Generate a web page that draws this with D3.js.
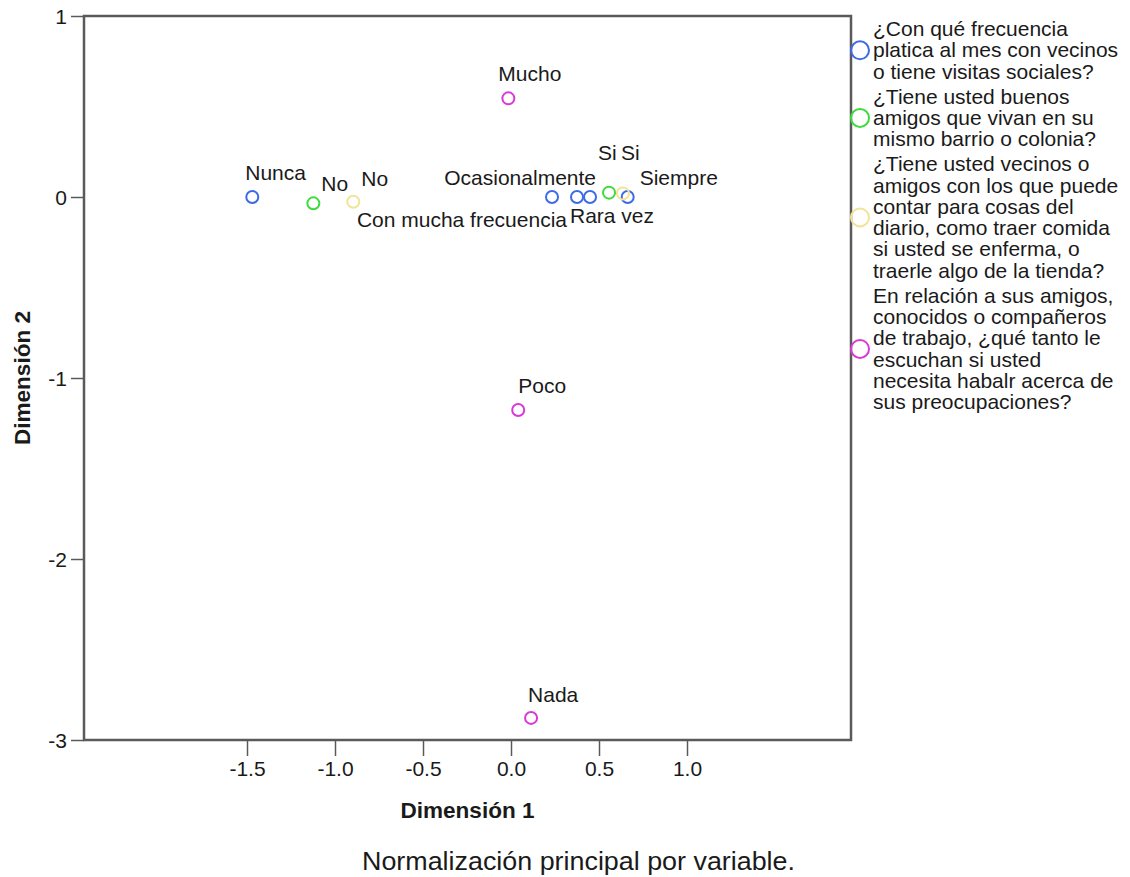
<!DOCTYPE html>
<html>
<head>
<meta charset="utf-8">
<script src="https://cdn.jsdelivr.net/npm/d3@7"></script>
<style>
  body { margin: 0; background: #fff; }
  text { font-family: "Liberation Sans", Arial, sans-serif; fill: #1a1a1a; }
</style>
</head>
<body>
<svg id="chart"></svg>
<script>
// category points, one set per variable
const freqCats = ["Nunca", "Con mucha frecuencia", "Ocasionalmente", "Rara vez", "Siempre"];
const freqX = [-1.47, 0.233, 0.375, 0.449, 0.663];
const freqY = [0.0, 0.0, 0.0, 0.0, 0.0];

const amigosCats = ["No", "Si"];
const amigosX = [-1.123, 0.557];
const amigosY = [-0.035, 0.024];

const vecinosCats = ["No", "Si"];
const vecinosX = [-0.896, 0.636];
const vecinosY = [-0.026, 0.020];

const escuchanCats = ["Mucho", "Poco", "Nada"];
const escuchanX = [-0.015, 0.041, 0.114];
const escuchanY = [0.545, -1.177, -2.878];

const legendLabels = [
  ["¿Con qué frecuencia", "platica al mes con vecinos", "o tiene visitas sociales?"],
  ["¿Tiene usted buenos", "amigos que vivan en su", "mismo barrio o colonia?"],
  ["¿Tiene usted vecinos o", "amigos con los que puede", "contar para cosas del", "diario, como traer comida", "si usted se enferma, o", "traerle algo de la tienda?"],
  ["En relación a sus amigos,", "conocidos o compañeros", "de trabajo, ¿qué tanto le", "escuchan si usted", "necesita habalr acerca de", "sus preocupaciones?"]
];

const xTicks = [-1.5, -1.0, -0.5, 0.0, 0.5, 1.0];
const yTicks = [1, 0, -1, -2, -3];

const colors = ["#3d6ae6", "#3ddc3d", "#f1e398", "#d839d8"];

// label placement (offset from point, text anchor)
const labelPos = {
  "0-0": [-7, -17, "start"],
  "0-1": [15, 29.5, "end"],
  "0-2": [19, -12, "end"],
  "0-3": [-20, 26, "start"],
  "0-4": [12, -12, "start"],
  "1-0": [8, -12, "start"],
  "1-1": [-11, -33, "start"],
  "2-0": [8, -16, "start"],
  "2-1": [-2, -33, "start"],
  "3-0": [-10, -17, "start"],
  "3-1": [0, -17, "start"],
  "3-2": [-3, -16, "start"]
};

const series = [
  {cats: freqCats, xs: freqX, ys: freqY},
  {cats: amigosCats, xs: amigosX, ys: amigosY},
  {cats: vecinosCats, xs: vecinosX, ys: vecinosY},
  {cats: escuchanCats, xs: escuchanX, ys: escuchanY}
];

const points = [];
series.forEach((s, si) => {
  s.cats.forEach((c, i) => {
    points.push({series: si, key: `${si}-${i}`, label: c, x: s.xs[i], y: s.ys[i]});
  });
});

const W = 1130, H = 877;
const plot = {left: 84, right: 851, top: 16, bottom: 740};

const svg = d3.select('#chart').attr('width', W).attr('height', H);

const xscale = d3.scaleLinear()
  .domain([(plot.left - 511) / 176, (plot.right - 511) / 176])
  .range([plot.left, plot.right]);
const yscale = d3.scaleLinear().domain([-3, 1]).range([plot.bottom, plot.top]);

const frameColor = '#5a5a5a';
const hyphen = (f) => (d) => f(d).replace('\u2212', '-');

// axes
const xaxis = d3.axisBottom(xscale).tickValues(xTicks).tickFormat(hyphen(d3.format('.1f'))).tickSize(16).tickPadding(8);
const g_x = svg.append('g').attr('transform', `translate(0,${plot.bottom})`).call(xaxis);
const yaxis = d3.axisLeft(yscale).tickValues(yTicks).tickFormat(hyphen(d3.format('d'))).tickSize(13).tickPadding(4);
const g_y = svg.append('g').attr('transform', `translate(${plot.left},0)`).call(yaxis);

[g_x, g_y].forEach((g) => {
  g.select('.domain').remove();
  g.selectAll('line').attr('stroke', frameColor).attr('stroke-width', 1.5);
  g.selectAll('text').style('font-size', '21px').attr('fill', '#1a1a1a')
    .style('font-family', '"Liberation Sans", Arial, sans-serif');
});
g_x.selectAll('text').attr('dy', '0.71em').attr('transform', 'translate(0,-3)');
g_y.selectAll('text').attr('dy', '0.36em');

// frame
svg.append('rect')
  .attr('x', plot.left).attr('y', plot.top)
  .attr('width', plot.right - plot.left).attr('height', plot.bottom - plot.top)
  .attr('fill', 'none').attr('stroke', frameColor).attr('stroke-width', 2.5);

// axis titles
svg.append('text')
  .attr('x', (plot.left + plot.right) / 2).attr('y', 818)
  .attr('text-anchor', 'middle')
  .style('font-size', '22px').style('font-weight', 'bold')
  .attr('textLength', 134).attr('lengthAdjust', 'spacingAndGlyphs')
  .text('Dimensión 1');

svg.append('text')
  .attr('transform', `translate(30,${(plot.top + plot.bottom) / 2}) rotate(-90)`)
  .attr('text-anchor', 'middle')
  .style('font-size', '22px').style('font-weight', 'bold')
  .attr('textLength', 134).attr('lengthAdjust', 'spacingAndGlyphs')
  .text('Dimensión 2');

svg.append('text')
  .attr('x', 362).attr('y', 870)
  .style('font-size', '25px')
  .attr('textLength', 433).attr('lengthAdjust', 'spacingAndGlyphs')
  .text('Normalización principal por variable.');

// points
const g = svg.append('g');
g.selectAll('circle').data(points).enter().append('circle')
  .attr('cx', (d) => xscale(d.x))
  .attr('cy', (d) => yscale(d.y))
  .attr('r', 6)
  .attr('fill', 'none')
  .attr('stroke', (d) => colors[d.series])
  .attr('stroke-width', 2);

g.selectAll('text').data(points).enter().append('text')
  .attr('x', (d) => xscale(d.x) + labelPos[d.key][0])
  .attr('y', (d) => yscale(d.y) + labelPos[d.key][1])
  .attr('text-anchor', (d) => labelPos[d.key][2])
  .style('font-size', '21px')
  .text((d) => d.label);

// legend
const lineH = 21.3, groupGap = 25;
const legend = svg.append('g');
let baseline = 36;
legendLabels.forEach((lines, i) => {
  const first = baseline;
  lines.forEach((ln, j) => {
    legend.append('text')
      .attr('x', 873).attr('y', baseline)
      .style('font-size', '21px')
      .text(ln);
    if (j < lines.length - 1) baseline += lineH;
  });
  const mid = (first + baseline) / 2 - 7;
  legend.append('circle')
    .attr('cx', 860).attr('cy', mid).attr('r', 9)
    .attr('fill', 'none').attr('stroke', colors[i]).attr('stroke-width', 2);
  baseline += groupGap;
});
</script>
</body>
</html>
